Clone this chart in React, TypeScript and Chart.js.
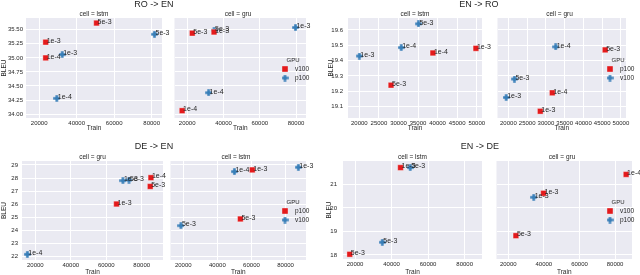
import React, { useEffect, useRef } from "react";
import { Chart, registerables } from "chart.js";
Chart.register(...registerables);

const FONT = "'Liberation Sans', Arial, Helvetica, sans-serif";
const RED = "#e41a1c";
const BLUE = "#377eb8";
const BG = "#eaeaf2";
const TXT = "#262626";

// ---------- RO -> EN ----------
const roEnXTicks = [20000, 40000, 60000, 80000];
const roEnYTicks = [34.0, 34.25, 34.5, 34.75, 35.0, 35.25, 35.5];
const roEnLstmRedTrain = [23500, 23500, 50600];
const roEnLstmRedBleu = [35.28, 35.0, 35.62];
const roEnLstmRedLr = ["1e-3", "1e-4", "5e-3"];
const roEnLstmBlueTrain = [32300, 29400, 81500];
const roEnLstmBlueBleu = [35.06, 34.28, 35.42];
const roEnLstmBlueLr = ["1e-3", "1e-4", "5e-3"];
const roEnGruRedTrain = [17200, 22800, 34800];
const roEnGruRedBleu = [34.06, 35.44, 35.46];
const roEnGruRedLr = ["1e-4", "5e-3", "1e-3"];
const roEnGruBlueTrain = [31800, 34800, 79700];
const roEnGruBlueBleu = [34.38, 35.49, 35.54];
const roEnGruBlueLr = ["1e-4", "5e-3", "1e-3"];

// ---------- EN -> RO ----------
const enRoXTicks = [20000, 25000, 30000, 35000, 40000, 45000, 50000];
const enRoYTicks = [19.1, 19.2, 19.3, 19.4, 19.5, 19.6];
const enRoLstmRedTrain = [28100, 38800, 49800];
const enRoLstmRedBleu = [19.24, 19.45, 19.48];
const enRoLstmRedLr = ["5e-3", "1e-4", "1e-3"];
const enRoLstmBlueTrain = [20000, 30700, 35100];
const enRoLstmBlueBleu = [19.43, 19.485, 19.64];
const enRoLstmBlueLr = ["1e-3", "1e-4", "5e-3"];
const enRoGruRedTrain = [28500, 31700, 45800];
const enRoGruRedBleu = [19.07, 19.19, 19.47];
const enRoGruRedLr = ["1e-3", "1e-4", "5e-3"];
const enRoGruBlueTrain = [19400, 21600, 32600];
const enRoGruBlueBleu = [19.16, 19.28, 19.49];
const enRoGruBlueLr = ["1e-3", "5e-3", "1e-4"];

// ---------- DE -> EN ----------
const deEnXTicks = [20000, 40000, 60000, 80000];
const deEnYTicks = [22, 23, 24, 25, 26, 27, 28, 29];
const deEnGruRedTrain = [65800, 85200, 84800];
const deEnGruRedBleu = [26.02, 28.03, 27.36];
const deEnGruRedLr = ["1e-3", "1e-4", "5e-3"];
const deEnGruBlueTrain = [15500, 69400, 72800];
const deEnGruBlueBleu = [22.18, 27.8, 27.85];
const deEnGruBlueLr = ["1e-4", "1e-3", "5e-3"];
const deEnLstmRedTrain = [60500, 53500];
const deEnLstmRedBleu = [28.62, 24.88];
const deEnLstmRedLr = ["1e-3", "5e-3"];
const deEnLstmBlueTrain = [50000, 87500, 18600];
const deEnLstmBlueBleu = [28.49, 28.82, 24.37];
const deEnLstmBlueLr = ["1e-4", "1e-3", "5e-3"];

// ---------- EN -> DE ----------
const enDeXTicks = [20000, 40000, 60000, 80000];
const enDeYTicks = [18, 19, 20, 21];
const enDeLstmRedTrain = [44900, 17100];
const enDeLstmRedBleu = [21.71, 18.03];
const enDeLstmRedLr = ["1e-3", "5e-3"];
const enDeLstmBlueTrain = [50200, 34900];
const enDeLstmBlueBleu = [21.71, 18.54];
const enDeLstmBlueLr = ["5e-3", "5e-3"];
const enDeGruRedTrain = [39800, 24300, 86200];
const enDeGruRedBleu = [20.62, 18.82, 21.42];
const enDeGruRedLr = ["1e-3", "5e-3", "1e-4"];
const enDeGruBlueTrain = [34300];
const enDeGruBlueBleu = [20.45];
const enDeGruBlueLr = ["1e-3"];

type Series = { train: number[]; bleu: number[]; lr: string[] };
type Legend = { mx: number; y0: number; names: [string, string] };
type Sub = {
  left: number; top: number; w: number; h: number;
  yW: number; xH: number; pt: number; pr: number;
  xr: [number, number]; xTicks: number[];
  yr: [number, number]; yTicks: number[]; dec: number;
  showY: boolean; yPad: number; yTitlePad: number;
  red: Series; blue: Series; facet: string; z: number;
  legend?: Legend;
};
type Panel = { title: string; cx: number; cy: number };

const S = (train: number[], bleu: number[], lr: string[]): Series => ({ train, bleu, lr });

const PANELS: Panel[] = [
  { title: "RO -> EN", cx: 154, cy: 3.8 },
  { title: "EN -> RO", cx: 479, cy: 3.8 },
  { title: "DE -> EN", cx: 154, cy: 146.2 },
  { title: "EN -> DE", cx: 480, cy: 146.2 },
];

const SUBS: Sub[] = [
  {
    left: 26, top: 18, w: 136, h: 100, yW: 26, xH: 14, pt: 6, pr: 14,
    xr: [13000, 85500], xTicks: roEnXTicks, yr: [33.93, 35.71], yTicks: roEnYTicks, dec: 2,
    showY: true, yPad: 3, yTitlePad: 0,
    red: S(roEnLstmRedTrain, roEnLstmRedBleu, roEnLstmRedLr),
    blue: S(roEnLstmBlueTrain, roEnLstmBlueBleu, roEnLstmBlueLr),
    facet: "cell = lstm", z: 2,
  },
  {
    left: 170, top: 18, w: 136, h: 100, yW: 0, xH: 14, pt: 6, pr: 12,
    xr: [13000, 85500], xTicks: roEnXTicks, yr: [33.93, 35.71], yTicks: roEnYTicks, dec: 2,
    showY: false, yPad: 3, yTitlePad: 0,
    red: S(roEnGruRedTrain, roEnGruRedBleu, roEnGruRedLr),
    blue: S(roEnGruBlueTrain, roEnGruBlueBleu, roEnGruBlueLr),
    facet: "cell = gru", z: 1, legend: { mx: 285, y0: 60, names: ["v100", "p100"] },
  },
  {
    left: 348, top: 18, w: 134, h: 100, yW: 28, xH: 14, pt: 6, pr: 14,
    xr: [17100, 51350], xTicks: enRoXTicks, yr: [19.026, 19.678], yTicks: enRoYTicks, dec: 1,
    showY: true, yPad: 5, yTitlePad: 7,
    red: S(enRoLstmRedTrain, enRoLstmRedBleu, enRoLstmRedLr),
    blue: S(enRoLstmBlueTrain, enRoLstmBlueBleu, enRoLstmBlueLr),
    facet: "cell = lstm", z: 2,
  },
  {
    left: 493, top: 18, w: 133, h: 100, yW: 0, xH: 14, pt: 6, pr: 14,
    xr: [17100, 51350], xTicks: enRoXTicks, yr: [19.026, 19.678], yTicks: enRoYTicks, dec: 1,
    showY: false, yPad: 3, yTitlePad: 0,
    red: S(enRoGruRedTrain, enRoGruRedBleu, enRoGruRedLr),
    blue: S(enRoGruBlueTrain, enRoGruBlueBleu, enRoGruBlueLr),
    facet: "cell = gru", z: 1, legend: { mx: 610, y0: 60, names: ["p100", "v100"] },
  },
  {
    left: 22, top: 161, w: 141, h: 99, yW: 22, xH: 16, pt: 6, pr: 14,
    xr: [12500, 92000], xTicks: deEnXTicks, yr: [21.75, 29.3], yTicks: deEnYTicks, dec: 0,
    showY: true, yPad: 4, yTitlePad: 0,
    red: S(deEnGruRedTrain, deEnGruRedBleu, deEnGruRedLr),
    blue: S(deEnGruBlueTrain, deEnGruBlueBleu, deEnGruBlueLr),
    facet: "cell = gru", z: 2,
  },
  {
    left: 166, top: 161, w: 140, h: 99, yW: 0, xH: 16, pt: 6, pr: 12,
    xr: [12500, 92000], xTicks: deEnXTicks, yr: [21.75, 29.3], yTicks: deEnYTicks, dec: 0,
    showY: false, yPad: 3, yTitlePad: 0,
    red: S(deEnLstmRedTrain, deEnLstmRedBleu, deEnLstmRedLr),
    blue: S(deEnLstmBlueTrain, deEnLstmBlueBleu, deEnLstmBlueLr),
    facet: "cell = lstm", z: 1, legend: { mx: 285, y0: 202, names: ["p100", "v100"] },
  },
  {
    left: 343, top: 161, w: 139, h: 98, yW: 23, xH: 17, pt: 6, pr: 14,
    xr: [13400, 89500], xTicks: enDeXTicks, yr: [17.83, 21.99], yTicks: enDeYTicks, dec: 0,
    showY: true, yPad: 6, yTitlePad: 5.5,
    red: S(enDeLstmRedTrain, enDeLstmRedBleu, enDeLstmRedLr),
    blue: S(enDeLstmBlueTrain, enDeLstmBlueBleu, enDeLstmBlueLr),
    facet: "cell = lstm", z: 2,
  },
  {
    left: 492, top: 161, w: 140, h: 98, yW: 0, xH: 17, pt: 6, pr: 8,
    xr: [13400, 89500], xTicks: enDeXTicks, yr: [17.83, 21.99], yTicks: enDeYTicks, dec: 0,
    showY: false, yPad: 3, yTitlePad: 0,
    red: S(enDeGruRedTrain, enDeGruRedBleu, enDeGruRedLr),
    blue: S(enDeGruBlueTrain, enDeGruBlueBleu, enDeGruBlueLr),
    facet: "cell = gru", z: 1, legend: { mx: 610, y0: 202, names: ["v100", "p100"] },
  },
];

function plusMarker(color: string): HTMLCanvasElement {
  const s = 7;
  const c = document.createElement("canvas");
  c.width = s;
  c.height = s;
  const g = c.getContext("2d")!;
  g.fillStyle = color;
  const a = 2.2, b = 4.8, e = 0.2, f = s - 0.2;
  g.beginPath();
  g.moveTo(a, e); g.lineTo(b, e); g.lineTo(b, a); g.lineTo(f, a); g.lineTo(f, b);
  g.lineTo(b, b); g.lineTo(b, f); g.lineTo(a, f); g.lineTo(a, b); g.lineTo(e, b);
  g.lineTo(e, a); g.lineTo(a, a);
  g.closePath();
  g.fill();
  return c;
}

function SubChart({ s }: { s: Sub }) {
  const ref = useRef<HTMLCanvasElement>(null);
  const cw = s.yW + s.w + s.pr;
  const ch = s.pt + s.h + s.xH;
  const cl = s.left - s.yW;
  const ct = s.top - s.pt;

  useEffect(() => {
    const plus = plusMarker(BLUE);
    const bg = {
      id: "bg",
      beforeDraw(chart: any) {
        const { ctx, chartArea } = chart;
        ctx.save();
        ctx.fillStyle = BG;
        ctx.fillRect(chartArea.left, chartArea.top, chartArea.right - chartArea.left, chartArea.bottom - chartArea.top);
        ctx.restore();
      },
    };
    const labels = {
      id: "lrLabels",
      afterDatasetsDraw(chart: any) {
        const ctx = chart.ctx;
        ctx.save();
        ctx.font = `7px ${FONT}`;
        ctx.fillStyle = TXT;
        ctx.textAlign = "left";
        ctx.textBaseline = "alphabetic";
        [s.red, s.blue].forEach((ser, di) => {
          const meta = chart.getDatasetMeta(di);
          meta.data.forEach((pt: any, i: number) => {
            ctx.fillText(ser.lr[i], pt.x + 1, pt.y + 0.8);
          });
        });
        ctx.restore();
      },
    };
    const legend = {
      id: "gpuLegend",
      afterDraw(chart: any) {
        if (!s.legend) return;
        const ctx = chart.ctx;
        const lg = s.legend;
        const mx = lg.mx - cl;
        const y0 = lg.y0 - ct;
        ctx.save();
        ctx.fillStyle = TXT;
        ctx.textBaseline = "middle";
        ctx.textAlign = "center";
        ctx.font = `6px ${FONT}`;
        ctx.fillText("GPU", mx + 8, y0);
        ctx.font = `6.5px ${FONT}`;
        ctx.textAlign = "left";
        ctx.fillStyle = RED;
        ctx.fillRect(mx - 2.8, y0 + 9 - 2.8, 5.6, 5.6);
        ctx.drawImage(plus, mx - 3.5, y0 + 18 - 3.5);
        ctx.fillStyle = TXT;
        ctx.fillText(lg.names[0], mx + 10, y0 + 9);
        ctx.fillText(lg.names[1], mx + 10, y0 + 18);
        ctx.restore();
      },
    };
    const mk = (ser: Series, color: string, style: any) => ({
      data: ser.train.map((x, i) => ({ x, y: ser.bleu[i] })),
      backgroundColor: color,
      borderColor: "rgba(255,255,255,0.7)",
      borderWidth: 0.5,
      pointStyle: style,
      pointRadius: 4,
      clip: false,
    });
    const chart = new Chart(ref.current as HTMLCanvasElement, {
      type: "scatter",
      data: { datasets: [mk(s.red, RED, "rect"), mk(s.blue, BLUE, plus)] as any },
      options: {
        responsive: false,
        maintainAspectRatio: false,
        animation: false,
        events: [],
        devicePixelRatio: 1,
        layout: { padding: { top: s.pt, right: s.pr, left: 0, bottom: 0 } },
        plugins: { legend: { display: false }, tooltip: { enabled: false }, title: { display: false } },
        scales: {
          x: {
            type: "linear",
            min: s.xr[0],
            max: s.xr[1],
            border: { display: false },
            grid: { color: "#ffffff", lineWidth: 1, drawTicks: false },
            afterBuildTicks: (sc: any) => { sc.ticks = s.xTicks.map((v) => ({ value: v })); },
            afterFit: (sc: any) => { sc.height = s.xH; sc.paddingLeft = 0; sc.paddingRight = 0; },
            ticks: {
              autoSkip: false, maxRotation: 0, minRotation: 0, padding: 2,
              color: TXT, font: { family: FONT, size: 6 },
              callback: (v: any) => String(v),
            },
            title: { display: true, text: "Train", color: TXT, font: { family: FONT, size: 6.5 }, padding: 0 },
          },
          y: {
            type: "linear",
            min: s.yr[0],
            max: s.yr[1],
            border: { display: false },
            grid: { color: "#ffffff", lineWidth: 1, drawTicks: false },
            afterBuildTicks: (sc: any) => { sc.ticks = s.yTicks.map((v) => ({ value: v })); },
            afterFit: (sc: any) => { sc.width = s.yW; sc.paddingTop = 0; sc.paddingBottom = 0; },
            ticks: {
              display: s.showY, padding: s.yPad,
              color: TXT, font: { family: FONT, size: 6 },
              callback: (v: any) => Number(v).toFixed(s.dec),
            },
            title: {
              display: s.showY, text: "BLEU", color: TXT,
              font: { family: FONT, size: 6.5 },
              padding: { top: s.yTitlePad, bottom: 0 },
            },
          },
        },
      } as any,
      plugins: [bg, labels, legend],
    });
    return () => chart.destroy();
  }, []);

  return (
    <canvas
      ref={ref}
      width={cw}
      height={ch}
      style={{ position: "absolute", left: cl, top: ct, width: cw, height: ch, zIndex: s.z }}
    />
  );
}

function Label({ text, cx, cy, size }: { text: string; cx: number; cy: number; size: number }) {
  return (
    <div
      style={{
        position: "absolute", left: cx, top: cy, transform: "translate(-50%, -50%)",
        fontSize: size, lineHeight: 1, whiteSpace: "nowrap", color: TXT, fontFamily: FONT, zIndex: 3,
      }}
    >
      {text}
    </div>
  );
}

export default function App() {
  return (
    <div
      style={{
        position: "absolute", left: 0, top: 0, width: 640, height: 275,
        overflow: "hidden", background: "#ffffff", fontFamily: FONT,
      }}
    >
      {SUBS.map((s, i) => (
        <SubChart key={i} s={s} />
      ))}
      {PANELS.map((p, i) => (
        <Label key={"p" + i} text={p.title} cx={p.cx} cy={p.cy} size={9} />
      ))}
      {SUBS.map((s, i) => (
        <Label key={"f" + i} text={s.facet} cx={s.left + s.w / 2} cy={s.top - 3.8} size={6.5} />
      ))}
    </div>
  );
}
